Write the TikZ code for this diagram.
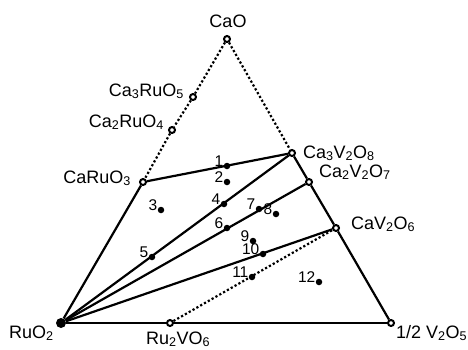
\documentclass[tikz,border=0pt]{standalone}
\usepackage{fontspec}
\setmainfont{Liberation Sans}
\usetikzlibrary{positioning}

\newcommand{\sbs}[1]{\textsubscript{#1}}

\tikzset{
  phase/.style={circle, draw, line width=2pt, fill=white, inner sep=0pt, minimum size=6pt},
  endmember/.style={circle, fill, inner sep=0pt, minimum size=10pt},
  sample/.style={circle, fill, inner sep=0pt, minimum size=6.5pt},
  tieline/.style={line width=2.2pt},
  dotline/.style={line width=2.2pt, dash pattern=on 2.2pt off 2.2pt},
  phaselbl/.style={inner sep=0pt, font=\fontsize{18}{20}\selectfont},
  numlbl/.style={inner sep=0pt, font=\fontsize{15.5}{18}\selectfont},
}

\begin{document}
\begin{tikzpicture}[x=1pt, y=-1pt]
  \useasboundingbox (0,0) rectangle (468,349);

  % Corners
  \node[phase] (cao) at (227,39) {};
  \node[endmember] (ruo) at (61,323) {};
  \node[phase] (vo) at (391,323) {};

  % Phases on the edges
  \node[phase] (ca3ru) at (193,97) {};
  \node[phase] (ca2ru) at (172,130) {};
  \node[phase] (caru) at (143,182) {};
  \node[phase] (ca3v) at (292,153) {};
  \node[phase] (ca2v) at (309,182) {};
  \node[phase] (cav) at (336,228) {};
  \node[phase] (ru2v) at (170,323) {};

  % Dotted edges
  \draw[dotline] (cao) -- (ca3ru) -- (ca2ru) -- (caru);
  \draw[dotline] (cao) -- (ca3v);
  \draw[dotline] (ru2v) -- (cav);

  % Solid edges and tie lines
  \draw[tieline] (caru) -- (ruo);
  \draw[tieline] (caru) -- (ca3v);
  \draw[tieline] (ca3v) -- (ca2v) -- (cav) -- (vo);
  \draw[tieline] (ruo) -- (ru2v) -- (vo);
  \draw[tieline] (ruo) -- (ca3v);
  \draw[tieline] (ruo) -- (ca2v);
  \draw[tieline] (ruo) -- (cav);

  % Samples
  \node[sample] (s1) at (227,166) {};
  \node[sample] (s2) at (227,182) {};
  \node[sample] (s3) at (161,210) {};
  \node[sample] (s4) at (224,204) {};
  \node[sample] (s5) at (152,257) {};
  \node[sample] (s6) at (227,228) {};
  \node[sample] (s7) at (259,209) {};
  \node[sample] (s8) at (276,214) {};
  \node[sample] (s9) at (253,241) {};
  \node[sample] (s10) at (263,254) {};
  \node[sample] (s11) at (252,277) {};
  \node[sample] (s12) at (319,282) {};
  \foreach \n in {1,...,12}
    \node[numlbl, left=0pt of s\n, anchor=base east] (n\n) {\n};

  % Phase labels
  \node[phaselbl, anchor=base] (caolbl) at (228,27) {CaO};
  \node[phaselbl, anchor=base east] (ca3rulbl) at (184,96) {Ca\sbs{3}RuO\sbs{5}};
  \node[phaselbl, anchor=base east] (ca2rulbl) at (164,127) {Ca\sbs{2}RuO\sbs{4}};
  \node[phaselbl, anchor=base east] (carulbl) at (131,183) {CaRuO\sbs{3}};
  \node[phaselbl, anchor=base west] (ca3vlbl) at (303,158) {Ca\sbs{3}V\sbs{2}O\sbs{8}};
  \node[phaselbl, anchor=base west] (ca2vlbl) at (319,177) {Ca\sbs{2}V\sbs{2}O\sbs{7}};
  \node[phaselbl, anchor=base west] (cavlbl) at (351,229) {CaV\sbs{2}O\sbs{6}};
  \node[phaselbl, anchor=base west] (ruolbl) at (9,338) {RuO\sbs{2}};
  \node[phaselbl, anchor=base west] (ru2vlbl) at (146,344) {Ru\sbs{2}VO\sbs{6}};
  \node[phaselbl, anchor=base west] (volbl) at (396,338) {1/2 V\sbs{2}O\sbs{5}};
\end{tikzpicture}
\end{document}
